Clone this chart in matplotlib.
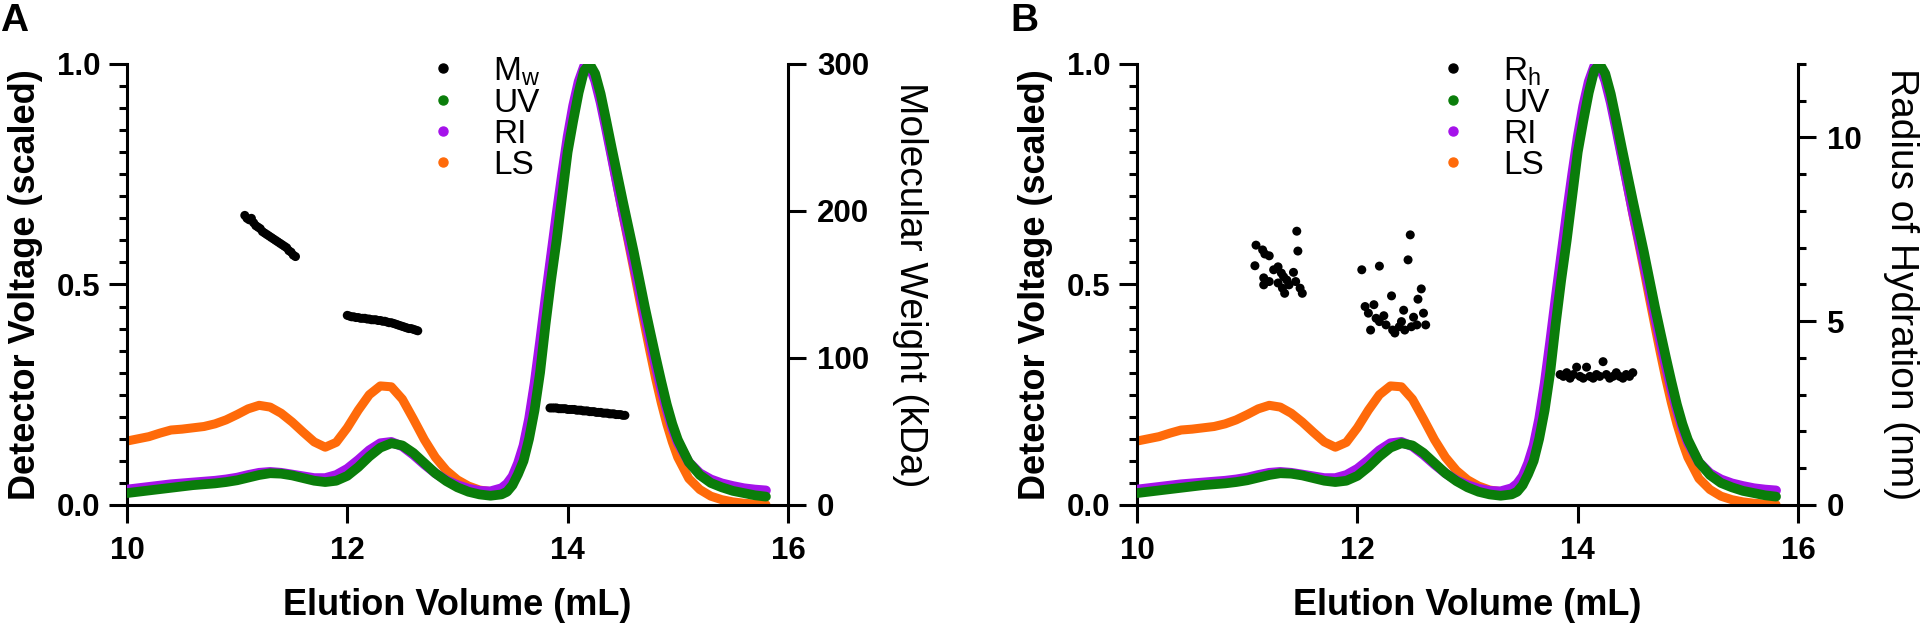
import matplotlib
matplotlib.use("Agg")
import matplotlib.pyplot as plt
from matplotlib.lines import Line2D
from matplotlib.ticker import MultipleLocator, FormatStrFormatter

plt.rcParams['font.family'] = ['Liberation Sans', 'DejaVu Sans']
plt.rcParams['mathtext.fontset'] = 'custom'
plt.rcParams['mathtext.rm'] = 'Liberation Sans'

# elution volume grid (mL) for the detector traces
volume = [10.0, 10.1, 10.2, 10.3, 10.4, 10.5, 10.6, 10.7, 10.8, 10.9,
          11.0, 11.1, 11.2, 11.3, 11.4, 11.5, 11.6, 11.7, 11.8, 11.9,
          12.0, 12.1, 12.2, 12.3, 12.4, 12.5, 12.6, 12.7, 12.8, 12.9,
          13.0, 13.1, 13.2, 13.3, 13.4, 13.45, 13.5, 13.55, 13.6, 13.65,
          13.7, 13.75, 13.8, 13.85, 13.9, 13.95, 14.0, 14.05, 14.1, 14.15,
          14.2, 14.25, 14.3, 14.35, 14.4, 14.45, 14.5, 14.55, 14.6, 14.65,
          14.7, 14.75, 14.8, 14.85, 14.9, 14.95, 15.0, 15.1, 15.2, 15.3,
          15.4, 15.5, 15.6, 15.7, 15.8]

uv = [0.027, 0.030, 0.033, 0.036, 0.039, 0.042, 0.045, 0.047, 0.049, 0.052,
      0.056, 0.062, 0.068, 0.072, 0.071, 0.067, 0.061, 0.055, 0.052, 0.055,
      0.066, 0.086, 0.110, 0.130, 0.140, 0.135, 0.118, 0.095, 0.072, 0.054,
      0.040, 0.030, 0.024, 0.021, 0.024, 0.030, 0.045, 0.070, 0.100, 0.150,
      0.215, 0.300, 0.410, 0.510, 0.600, 0.700, 0.800, 0.870, 0.935, 0.985,
      1.000, 0.978, 0.932, 0.872, 0.810, 0.750, 0.690, 0.632, 0.574, 0.512,
      0.450, 0.392, 0.335, 0.280, 0.228, 0.184, 0.148, 0.097, 0.068, 0.050,
      0.040, 0.032, 0.027, 0.022, 0.019]

ri = [0.035, 0.038, 0.041, 0.044, 0.047, 0.049, 0.051, 0.053, 0.055, 0.058,
      0.062, 0.068, 0.073, 0.075, 0.073, 0.069, 0.065, 0.061, 0.061, 0.068,
      0.082, 0.102, 0.124, 0.140, 0.143, 0.133, 0.114, 0.092, 0.072, 0.056,
      0.045, 0.037, 0.032, 0.031, 0.038, 0.048, 0.065, 0.095, 0.135, 0.195,
      0.275, 0.370, 0.470, 0.565, 0.660, 0.750, 0.835, 0.905, 0.960, 0.995,
      0.995, 0.962, 0.912, 0.852, 0.790, 0.727, 0.665, 0.607, 0.548, 0.488,
      0.428, 0.370, 0.315, 0.263, 0.216, 0.175, 0.142, 0.097, 0.072, 0.058,
      0.049, 0.043, 0.038, 0.035, 0.033]

ls = [0.145, 0.150, 0.155, 0.163, 0.170, 0.172, 0.175, 0.178, 0.184, 0.193,
      0.205, 0.218, 0.226, 0.222, 0.208, 0.188, 0.165, 0.143, 0.131, 0.142,
      0.175, 0.215, 0.250, 0.270, 0.268, 0.240, 0.195, 0.148, 0.108, 0.078,
      0.057, 0.043, 0.034, 0.030, 0.035, 0.045, 0.062, 0.090, 0.130, 0.190,
      0.270, 0.360, 0.460, 0.560, 0.650, 0.740, 0.825, 0.895, 0.950, 0.990,
      0.995, 0.966, 0.917, 0.856, 0.790, 0.725, 0.660, 0.598, 0.535, 0.470,
      0.407, 0.345, 0.286, 0.232, 0.184, 0.143, 0.108, 0.060, 0.035, 0.020,
      0.012, 0.007, 0.004, 0.002, 0.001]

# molecular weight (kDa) across the three peaks
mw_volume = [11.07, 11.09, 11.11, 11.13, 11.15, 11.17, 11.19, 11.21, 11.23, 11.25,
             11.27, 11.29, 11.31, 11.33, 11.35, 11.37, 11.39, 11.41, 11.43, 11.45,
             11.47, 11.49, 11.51, 11.53,
             12.00, 12.02, 12.04, 12.06, 12.08, 12.10, 12.12, 12.14, 12.16, 12.18,
             12.20, 12.22, 12.24, 12.26, 12.28, 12.30, 12.32, 12.34, 12.36, 12.38,
             12.40, 12.42, 12.44, 12.46, 12.48, 12.50, 12.52, 12.54, 12.56, 12.58,
             12.60, 12.62, 12.64,
             13.84, 13.86, 13.88, 13.90, 13.92, 13.94, 13.96, 13.98, 14.00, 14.02,
             14.04, 14.06, 14.08, 14.10, 14.12, 14.14, 14.16, 14.18, 14.20, 14.22,
             14.24, 14.26, 14.28, 14.30, 14.32, 14.34, 14.36, 14.38, 14.40, 14.42,
             14.44, 14.46, 14.48, 14.50, 14.52]
mw_kda = [197, 195, 194, 195, 192, 190, 189, 188, 186, 185,
          184, 183, 182, 181, 180, 179, 178, 177, 176, 175,
          173, 172, 170, 169,
          129, 128.5, 128, 128, 127.5, 127.5, 127, 127, 127, 126.5,
          126.5, 126, 126, 126, 125.5, 125.5, 125, 125, 124.5, 124,
          124, 123.5, 123, 122.5, 122, 121.5, 121, 120.5, 120, 120,
          119.5, 119, 118.5,
          66, 66, 66, 66, 65.5, 65.5, 65.5, 65.5, 65, 65,
          65, 65, 64.5, 64.5, 64.5, 64, 64, 64, 63.5, 63.5,
          63.5, 63, 63, 63, 62.5, 62.5, 62.5, 62, 62, 62,
          61.5, 61.5, 61.5, 61, 61]

# hydrodynamic radius (nm)
rh_volume = [11.08, 11.14, 11.16, 11.20, 11.07, 11.28, 11.31, 11.15, 11.20, 11.15,
             11.33, 11.36, 11.38, 11.42, 11.44, 11.32, 11.34, 11.45, 11.46, 11.48,
             11.50, 11.28, 11.24,
             12.04, 12.20, 12.48, 12.46, 12.31, 12.58, 12.55, 12.42, 12.60, 12.51,
             12.07, 12.10, 12.15, 12.17, 12.20, 12.26, 12.32, 12.38, 12.43, 12.49,
             12.54, 12.62, 12.12, 12.34, 12.40, 12.24,
             13.84, 13.87, 13.90, 13.93, 13.96, 13.99, 14.02, 14.05, 14.08, 14.11,
             14.14, 14.17, 14.20, 14.23, 14.26, 14.29, 14.32, 14.35, 14.38, 14.41,
             14.44, 14.47, 14.50]
rh_nm = [7.07, 6.94, 6.83, 6.78, 6.51, 6.48, 6.31, 6.18, 6.08, 5.99,
         6.21, 6.12, 5.99, 6.33, 6.08, 5.90, 5.76, 7.45, 6.91, 5.90,
         5.76, 6.04, 6.40,
         6.40, 6.50, 7.35, 6.67, 5.69, 5.88, 5.60, 5.30, 5.22, 5.11,
         5.40, 5.22, 5.45, 5.08, 4.99, 4.90, 4.76, 4.85, 4.76, 4.85,
         4.90, 4.90, 4.76, 4.68, 4.99, 5.15,
         3.55, 3.50, 3.60, 3.45, 3.55, 3.75, 3.50, 3.45, 3.75, 3.50,
         3.45, 3.55, 3.50, 3.90, 3.55, 3.45, 3.50, 3.60, 3.50, 3.45,
         3.55, 3.50, 3.60]

GREEN = '#0a7d0a'
PURPLE = '#a512ea'
ORANGE = '#ff6a0a'

fig = plt.figure(figsize=(19.2, 6.26), dpi=100)


def draw_panel(left, letter, pts_x, pts_y, pts_label, right_label, right_max,
               right_major, right_minor, right_label_x):
    ax = fig.add_axes([left, 0.1933, 0.3443, 0.7045])
    ax.plot(volume, ls, color=ORANGE, lw=6.5, solid_capstyle='round', zorder=2)
    ax.plot(volume, ri, color=PURPLE, lw=7, solid_capstyle='round', zorder=3)
    ax.plot(volume, uv, color=GREEN, lw=7, solid_capstyle='round', zorder=4)
    ax.set_xlim(10, 16)
    ax.set_ylim(0, 1.0)
    ax.set_xticks([10, 12, 14, 16])
    ax.yaxis.set_major_locator(MultipleLocator(0.5))
    ax.yaxis.set_minor_locator(MultipleLocator(0.05))
    ax.yaxis.set_major_formatter(FormatStrFormatter('%.1f'))
    ax.spines['top'].set_visible(False)
    ax.spines['right'].set_visible(False)
    for s in ['left', 'bottom']:
        ax.spines[s].set_linewidth(2.2)
    ax.tick_params(which='major', length=13, width=2.2, labelsize=22.5, pad=6)
    ax.tick_params(which='minor', length=6, width=2.2)
    ax.tick_params(axis='x', pad=9)
    for t in ax.get_xticklabels() + ax.get_yticklabels():
        t.set_fontweight('bold')
    ax.set_xlabel('Elution Volume (mL)', fontsize=26, fontweight='bold',
                  va='center')
    ax.set_ylabel('Detector Voltage (scaled)', fontsize=26, fontweight='bold',
                  va='center')
    ax.xaxis.set_label_coords(0.5, -0.227)
    ax.yaxis.set_label_coords(-0.154, 0.5)

    ax2 = ax.twinx()
    ax2.scatter(pts_x, pts_y, s=42, color='black', edgecolors='none', zorder=5)
    ax2.set_ylim(0, right_max)
    ax2.yaxis.set_major_locator(MultipleLocator(right_major))
    if right_minor:
        ax2.yaxis.set_minor_locator(MultipleLocator(right_minor))
    for s in ['top', 'left', 'bottom']:
        ax2.spines[s].set_visible(False)
    ax2.spines['right'].set_linewidth(2.2)
    ax2.tick_params(which='major', length=13, width=2.2, labelsize=22.5, pad=8)
    ax2.tick_params(which='minor', length=6, width=2.2)
    for t in ax2.get_yticklabels():
        t.set_fontweight('bold')
    ax2.set_ylabel(right_label, fontsize=28, rotation=270, va='center')
    ax2.yaxis.set_label_coords(right_label_x, 0.5)

    handles = [Line2D([], [], ls='none', marker='o', ms=6.5, color=c)
               for c in ['black', GREEN, PURPLE, ORANGE]]
    ax2.legend(handles, [pts_label, 'UV', 'RI', 'LS'], loc='upper left',
               bbox_to_anchor=(0.458, 1.02), frameon=False, fontsize=24,
               handlelength=0.8, handletextpad=1.1, labelspacing=0.0,
               borderpad=0, borderaxespad=0)

    fig.text(left - 0.066, 0.995, letter, fontsize=28, fontweight='bold',
             va='top', ha='left')


draw_panel(0.0661, 'A', mw_volume, mw_kda, 'M$_\\mathregular{w}$',
           'Molecular Weight (kDa)', 300, 100, None, 1.185)
draw_panel(0.5922, 'B', rh_volume, rh_nm, 'R$_\\mathregular{h}$',
           'Radius of Hydration (nm)', 12, 5, 1, 1.156)

fig.savefig('out.png', dpi=100)
